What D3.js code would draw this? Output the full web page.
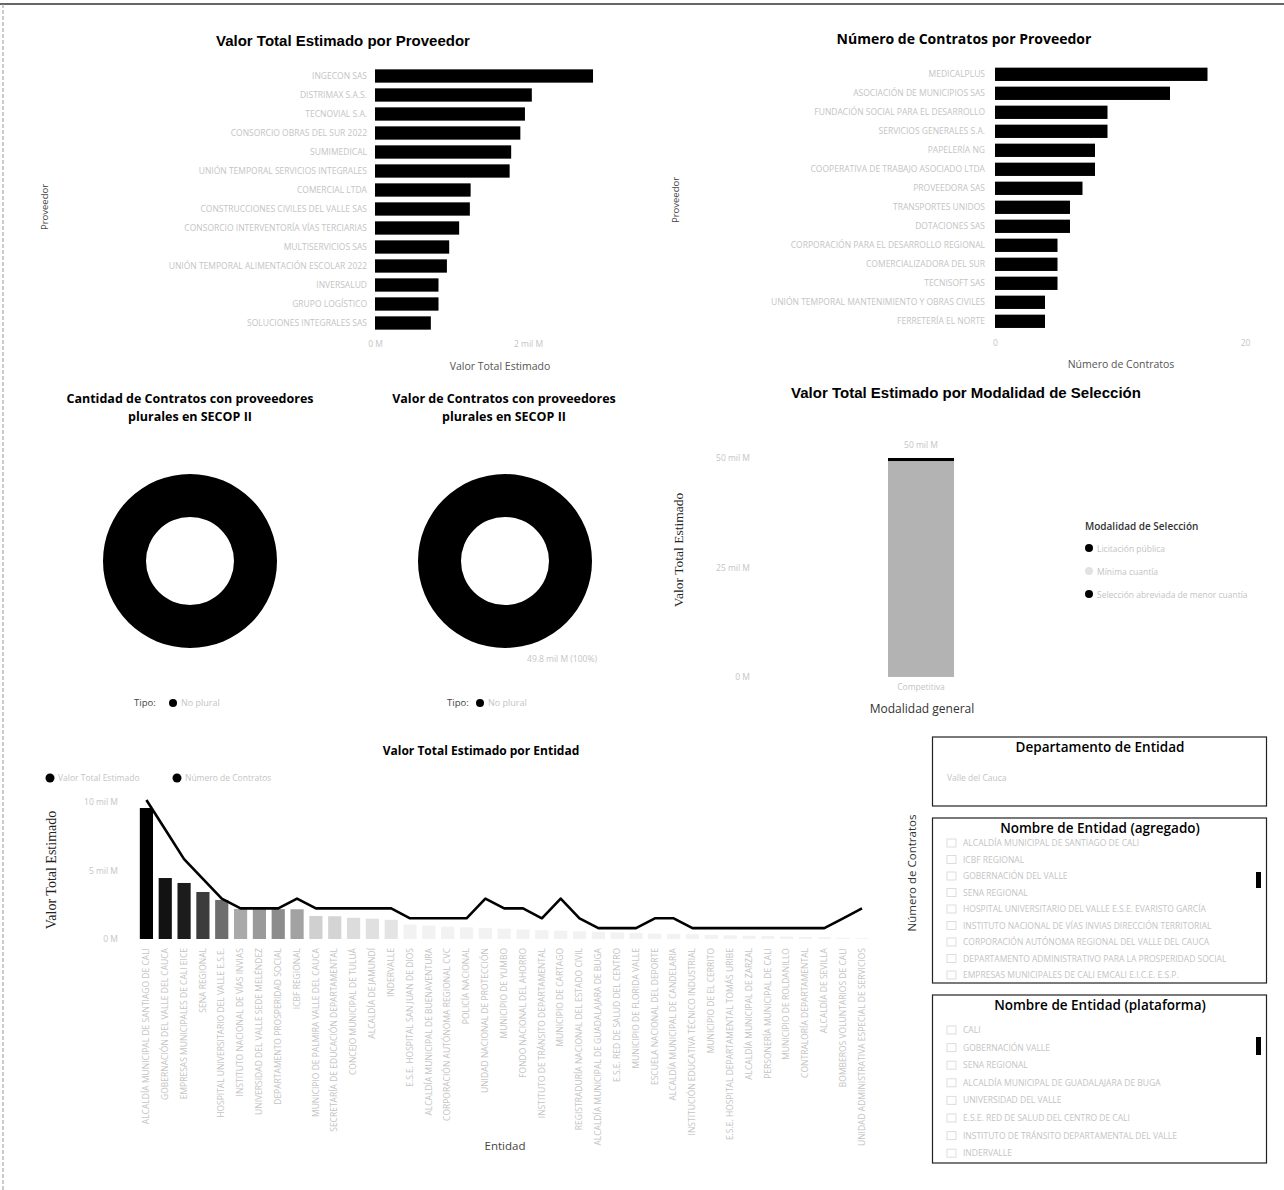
<!DOCTYPE html>
<html><head><meta charset="utf-8">
<script src="https://cdn.jsdelivr.net/npm/d3@7"></script>
<style>
body{margin:0;background:#fff;}
svg{display:block;font-family:"Open Sans",sans-serif;}
</style></head><body>
<svg id="c" width="1284" height="1190"></svg>
<script>
// ---------- DATA ----------
const proveedoresValor = ["INGECON SAS","DISTRIMAX S.A.S.","TECNOVIAL S.A.","CONSORCIO OBRAS DEL SUR 2022","SUMIMEDICAL","UNIÓN TEMPORAL SERVICIOS INTEGRALES","COMERCIAL LTDA","CONSTRUCCIONES CIVILES DEL VALLE SAS","CONSORCIO INTERVENTORÍA VÍAS TERCIARIAS","MULTISERVICIOS SAS","UNIÓN TEMPORAL ALIMENTACIÓN ESCOLAR 2022","INVERSALUD","GRUPO LOGÍSTICO","SOLUCIONES INTEGRALES SAS"];
const valorProveedor = [2850, 2050, 1960, 1900, 1780, 1760, 1250, 1240, 1100, 970, 940, 830, 830, 730]; // millones COP
const valorTicks = [0, 2000];

const proveedoresContratos = ["MEDICALPLUS","ASOCIACIÓN DE MUNICIPIOS SAS","FUNDACIÓN SOCIAL PARA EL DESARROLLO","SERVICIOS GENERALES S.A.","PAPELERÍA NG","COOPERATIVA DE TRABAJO ASOCIADO LTDA","PROVEEDORA SAS","TRANSPORTES UNIDOS","DOTACIONES SAS","CORPORACIÓN PARA EL DESARROLLO REGIONAL","COMERCIALIZADORA DEL SUR","TECNISOFT SAS","UNIÓN TEMPORAL MANTENIMIENTO Y OBRAS CIVILES","FERRETERÍA EL NORTE"];
const numeroContratos = [17, 14, 9, 9, 8, 8, 7, 6, 6, 5, 5, 5, 4, 4];
const contratosTicks = [0, 20];

const tipos = ["No plural"];
const cantidadPorTipo = [212];
const valorPorTipo = [49800];

const modalidadGeneral = ["Competitiva"];
const modalidades = ["Licitación pública", "Mínima cuantía", "Selección abreviada de menor cuantía"];
const valorModalidad = [10, 49300, 690];
const modalidadTicks = [0, 25000, 50000];

const entidades = ["ALCALDÍA MUNICIPAL DE SANTIAGO DE CALI","GOBERNACIÓN DEL VALLE DEL CAUCA","EMPRESAS MUNICIPALES DE CALI EICE","SENA REGIONAL","HOSPITAL UNIVERSITARIO DEL VALLE E.S.E.","INSTITUTO NACIONAL DE VÍAS INVIAS","UNIVERSIDAD DEL VALLE SEDE MELÉNDEZ","DEPARTAMENTO PROSPERIDAD SOCIAL","ICBF REGIONAL","MUNICIPIO DE PALMIRA VALLE DEL CAUCA","SECRETARÍA DE EDUCACIÓN DEPARTAMENTAL","CONCEJO MUNICIPAL DE TULUÁ","ALCALDÍA DE JAMUNDÍ","INDERVALLE","E.S.E. HOSPITAL SAN JUAN DE DIOS","ALCALDÍA MUNICIPAL DE BUENAVENTURA","CORPORACIÓN AUTÓNOMA REGIONAL CVC","POLICÍA NACIONAL","UNIDAD NACIONAL DE PROTECCIÓN","MUNICIPIO DE YUMBO","FONDO NACIONAL DEL AHORRO","INSTITUTO DE TRÁNSITO DEPARTAMENTAL","MUNICIPIO DE CARTAGO","REGISTRADURÍA NACIONAL DEL ESTADO CIVIL","ALCALDÍA MUNICIPAL DE GUADALAJARA DE BUGA","E.S.E. RED DE SALUD DEL CENTRO","MUNICIPIO DE FLORIDA VALLE","ESCUELA NACIONAL DEL DEPORTE","ALCALDÍA MUNICIPAL DE CANDELARIA","INSTITUCIÓN EDUCATIVA TÉCNICO INDUSTRIAL","MUNICIPIO DE EL CERRITO","E.S.E. HOSPITAL DEPARTAMENTAL TOMÁS URIBE","ALCALDÍA MUNICIPAL DE ZARZAL","PERSONERÍA MUNICIPAL DE CALI","MUNICIPIO DE ROLDANILLO","CONTRALORÍA DEPARTAMENTAL","ALCALDÍA DE SEVILLA","BOMBEROS VOLUNTARIOS DE CALI","UNIDAD ADMINISTRATIVA ESPECIAL DE SERVICIOS"];
const valorEntidad = [9560, 4450, 4090, 3430, 2850, 2190, 2180, 2180, 2170, 1680, 1660, 1550, 1480, 1400, 1050, 980, 900, 850, 800, 760, 700, 650, 600, 560, 520, 480, 440, 400, 370, 340, 300, 270, 240, 210, 180, 150, 120, 90, 60];
const contratosEntidad = [14, 11, 8, 6, 4, 3, 3, 3, 4, 3, 3, 3, 3, 3, 2, 2, 2, 2, 4, 3, 3, 2, 4, 2, 1, 1, 1, 2, 2, 1, 1, 1, 1, 1, 1, 1, 1, 2, 3];
const entidadTicks = [0, 5000, 10000];
const seriesEntidad = ["Valor Total Estimado", "Número de Contratos"];

const departamentos = ["Valle del Cauca"];
const entidadesAgregado = ["ALCALDÍA MUNICIPAL DE SANTIAGO DE CALI","ICBF REGIONAL","GOBERNACIÓN DEL VALLE","SENA REGIONAL","HOSPITAL UNIVERSITARIO DEL VALLE E.S.E. EVARISTO GARCÍA","INSTITUTO NACIONAL DE VÍAS INVIAS DIRECCIÓN TERRITORIAL","CORPORACIÓN AUTÓNOMA REGIONAL DEL VALLE DEL CAUCA","DEPARTAMENTO ADMINISTRATIVO PARA LA PROSPERIDAD SOCIAL","EMPRESAS MUNICIPALES DE CALI EMCALI E.I.C.E. E.S.P."];
const entidadesPlataforma = ["CALI","GOBERNACIÓN VALLE","SENA REGIONAL","ALCALDÍA MUNICIPAL DE GUADALAJARA DE BUGA","UNIVERSIDAD DEL VALLE","E.S.E. RED DE SALUD DEL CENTRO DE CALI","INSTITUTO DE TRÁNSITO DEPARTAMENTAL DEL VALLE","INDERVALLE"];

// ---------- HELPERS ----------
const FAINT = "#c4c4c4";
const svg = d3.select("#c");
svg.append("rect").attr("width",1284).attr("height",1190).attr("fill","#fff");
svg.append("line").attr("x1",0).attr("x2",1284).attr("y1",4).attr("y2",4).attr("stroke","#333").attr("stroke-width",1.3);
svg.append("line").attr("x1",3).attr("x2",3).attr("y1",4).attr("y2",1190).attr("stroke","#999").attr("stroke-dasharray","4,2");

function text(x, y, s, o) {
  o = o || {};
  const t = svg.append("text").attr("x", x).attr("y", y).text(s)
    .attr("font-size", o.size || 10)
    .attr("font-family", o.family || "'Open Sans', sans-serif")
    .attr("font-weight", o.weight || 400)
    .attr("fill", o.fill || "#222")
    .attr("text-anchor", o.anchor || "middle");
  if (o.rotate) t.attr("transform", `rotate(${o.rotate},${x},${y})`);
  return t;
}
const fmtM = d => d === 0 ? "0 M" : (d / 1000) + " mil M";
function cleanAxis(g, fill, size) {
  g.select(".domain").remove();
  g.selectAll(".tick line").remove();
  g.selectAll("text").attr("fill", fill).attr("font-size", size).attr("font-family", "'Open Sans', sans-serif");
}

// ---------- TOP LEFT: Valor por proveedor ----------
text(343, 46, "Valor Total Estimado por Proveedor", {size: 15, weight: 700, family: "'Liberation Sans', Arial, sans-serif", fill: "#000"});
const yL = d3.scaleBand().domain(proveedoresValor).range([66.5, 332.5]).paddingInner(0.3).paddingOuter(0.15);
const xL = d3.scaleLinear().domain([0, 2000]).range([375, 528]);
svg.append("g").selectAll("rect").data(proveedoresValor).join("rect")
  .attr("x", xL(0)).attr("y", d => yL(d))
  .attr("width", (d, i) => xL(valorProveedor[i]) - xL(0))
  .attr("height", yL.bandwidth()).attr("fill", "#000");
svg.append("g").attr("transform", "translate(367,0)")
  .call(d3.axisLeft(yL).tickSize(0).tickPadding(0)).call(g => cleanAxis(g, FAINT, 8.5));
svg.append("g").attr("transform", "translate(0,341)")
  .call(d3.axisBottom(xL).tickValues(valorTicks).tickFormat(fmtM).tickSize(0).tickPadding(0)).call(g => cleanAxis(g, FAINT, 8.5));
text(500, 370, "Valor Total Estimado", {size: 10.5, fill: "#555"});
text(48, 207, "Proveedor", {size: 9.5, fill: "#444", rotate: -90});

// ---------- TOP RIGHT: Número de contratos por proveedor ----------
text(964, 44, "Número de Contratos por Proveedor", {size: 14, weight: 700, fill: "#000"});
const yR = d3.scaleBand().domain(proveedoresContratos).range([64.8, 330.8]).paddingInner(0.3).paddingOuter(0.15);
const xR = d3.scaleLinear().domain([0, 20]).range([995, 1245]);
svg.append("g").selectAll("rect").data(proveedoresContratos).join("rect")
  .attr("x", xR(0)).attr("y", d => yR(d))
  .attr("width", (d, i) => xR(numeroContratos[i]) - xR(0))
  .attr("height", yR.bandwidth()).attr("fill", "#000");
svg.append("g").attr("transform", "translate(985,0)")
  .call(d3.axisLeft(yR).tickSize(0).tickPadding(0)).call(g => cleanAxis(g, FAINT, 8.5));
svg.append("g").attr("transform", "translate(0,340)")
  .call(d3.axisBottom(xR).tickValues(contratosTicks).tickSize(0).tickPadding(0)).call(g => cleanAxis(g, FAINT, 8.5));
text(1121, 368, "Número de Contratos", {size: 10.5, fill: "#555"});
text(679, 200, "Proveedor", {size: 9.5, fill: "#444", rotate: -90});

// ---------- DONUTS ----------
const pie = d3.pie().sort(null);
const arc = d3.arc().innerRadius(44).outerRadius(87);
function donut(cx, cy, values, titleLines, tx, legX, dotX) {
  text(tx, 403, titleLines[0], {size: 12.5, weight: 700, fill: "#000"});
  text(tx, 421, titleLines[1], {size: 12.5, weight: 700, fill: "#000"});
  svg.append("g").attr("transform", `translate(${cx},${cy})`)
    .selectAll("path").data(pie(values)).join("path")
    .attr("d", arc).attr("fill", "#000");
  text(legX, 706, "Tipo:", {size: 9.5, fill: "#444", anchor: "start"});
  svg.append("g").selectAll("circle").data(tipos).join("circle")
    .attr("cx", dotX).attr("cy", 703).attr("r", 4).attr("fill", "#000");
  svg.append("g").selectAll("text").data(tipos).join("text")
    .attr("x", dotX + 8).attr("y", 706).text(d => d)
    .attr("font-size", 9).attr("fill", FAINT);
}
donut(190, 561, cantidadPorTipo, ["Cantidad de Contratos con proveedores", "plurales en SECOP II"], 190, 134, 173);
donut(505, 561, valorPorTipo, ["Valor de Contratos con proveedores", "plurales en SECOP II"], 504, 447, 480);
text(562, 662, fmtM(valorPorTipo[0]) + " (100%)", {size: 8.5, fill: FAINT});

// ---------- MODALIDAD ----------
text(966, 398, "Valor Total Estimado por Modalidad de Selección", {size: 15, weight: 700, family: "'Liberation Sans', Arial, sans-serif", fill: "#000"});
const xM = d3.scaleBand().domain(modalidadGeneral).range([855, 987]).padding(1/3);
const yM = d3.scaleLinear().domain([0, 50000]).range([677, 458]);
const colorM = d3.scaleOrdinal().domain(modalidades).range(["#000", "#b3b3b3", "#000"]);
const rowM = {grupo: modalidadGeneral[0]};
modalidades.forEach((m, i) => rowM[m] = valorModalidad[i]);
const stackM = d3.stack().keys(modalidades)([rowM]);
svg.append("g").selectAll("rect").data(stackM).join("rect")
  .attr("x", d => xM(d[0].data.grupo)).attr("width", xM.bandwidth())
  .attr("y", d => yM(d[0][1])).attr("height", d => yM(d[0][0]) - yM(d[0][1]))
  .attr("fill", d => colorM(d.key));
text(xM(modalidadGeneral[0]) + xM.bandwidth() / 2, 448, fmtM(d3.sum(valorModalidad)), {size: 8.5, fill: FAINT});
svg.append("g").attr("transform", "translate(750,0)")
  .call(d3.axisLeft(yM).tickValues(modalidadTicks).tickFormat(fmtM).tickSize(0).tickPadding(0)).call(g => cleanAxis(g, FAINT, 8.5));
svg.append("g").attr("transform", "translate(0,684)")
  .call(d3.axisBottom(xM).tickSize(0).tickPadding(0)).call(g => cleanAxis(g, FAINT, 8.5));
text(922, 713, "Modalidad general", {size: 12, fill: "#333"});
text(683, 550, "Valor Total Estimado", {size: 13.5, fill: "#222", family: "'Liberation Serif', serif", rotate: -90});
text(1085, 530, "Modalidad de Selección", {size: 10, weight: 600, fill: "#333", anchor: "start"});
const legM = svg.append("g").selectAll("g").data(modalidades).join("g")
  .attr("transform", (d, i) => `translate(1089,${548 + i * 23})`);
legM.append("circle").attr("r", 4).attr("fill", d => colorM(d) === "#000" ? "#000" : "#e2e2e2");
legM.append("text").attr("x", 8).attr("y", 3.5).text(d => d).attr("font-size", 8.5).attr("fill", FAINT);

// ---------- BOTTOM: Valor por entidad ----------
text(481, 755, "Valor Total Estimado por Entidad", {size: 12, weight: 700, fill: "#000"});
const xE = d3.scaleBand().domain(entidades).range([137, 871.4]).paddingInner(0.3).paddingOuter(0.15);
const yE = d3.scaleLinear().domain([0, 10000]).range([939, 802]);
const yE2 = d3.scaleLinear().domain([0, 15]).range([938, 790.1]);
const grays = ["#000", "#121212", "#1c1c1c", "#3c3c3c", "#6e6e6e", "#a9a9a9", "#9a9a9a", "#8c8c8c", "#a2a2a2", "#d0d0d0", "#d4d4d4", "#dcdcdc", "#e0e0e0", "#e4e4e4"];
const colorE = (d, i) => i < grays.length ? grays[i] : "#f2f2f2";
svg.append("g").selectAll("rect").data(entidades).join("rect")
  .attr("x", d => xE(d)).attr("width", xE.bandwidth())
  .attr("y", (d, i) => yE(valorEntidad[i])).attr("height", (d, i) => yE(0) - yE(valorEntidad[i]))
  .attr("fill", colorE);
const lineE = d3.line().x((d, i) => xE(entidades[i]) + xE.bandwidth() / 2).y(d => yE2(d));
svg.append("path").datum(contratosEntidad).attr("d", lineE)
  .attr("fill", "none").attr("stroke", "#000").attr("stroke-width", 2.6).attr("stroke-linejoin", "round");
svg.append("g").attr("transform", "translate(118,0)")
  .call(d3.axisLeft(yE).tickValues(entidadTicks).tickFormat(fmtM).tickSize(0).tickPadding(0)).call(g => cleanAxis(g, FAINT, 8.5));
svg.append("g").attr("transform", "translate(0,948)")
  .call(d3.axisBottom(xE).tickSize(0))
  .call(g => {
    cleanAxis(g, FAINT, 8.5);
    g.selectAll("text").attr("x", 0).attr("y", 0).attr("dy", "0.32em")
      .attr("transform", "rotate(-90)").attr("text-anchor", "end");
  });
text(505, 1150, "Entidad", {size: 11.5, fill: "#444"});
text(56, 870, "Valor Total Estimado", {size: 14, fill: "#222", family: "'Liberation Serif', serif", rotate: -90});
text(916, 873, "Número de Contratos", {size: 11.5, fill: "#333", rotate: -90});
const legE = svg.append("g").selectAll("g").data(seriesEntidad).join("g")
  .attr("transform", (d, i) => `translate(${i ? 177 : 50},778)`);
legE.append("circle").attr("r", 4.5).attr("fill", "#000");
legE.append("text").attr("x", 8).attr("y", 3).text(d => d).attr("font-size", 8.5).attr("fill", FAINT);

// ---------- RIGHT PANELS ----------
function panel(y0, h, title, items, rowY, rowStep, thumb) {
  svg.append("rect").attr("x", 932.5).attr("y", y0).attr("width", 334).attr("height", h)
    .attr("fill", "none").attr("stroke", "#222").attr("stroke-width", 1.2);
  text(1100, y0 + 15, title, {size: 13.5, weight: 600, fill: "#000"});
  const g = svg.append("g").selectAll("g").data(items).join("g")
    .attr("transform", (d, i) => `translate(947,${rowY + i * rowStep})`);
  if (rowStep) {
    g.append("rect").attr("x", 0).attr("y", -4).attr("width", 9).attr("height", 8)
      .attr("fill", "none").attr("stroke", "#ddd");
  }
  g.append("text").attr("x", rowStep ? 16 : 0).attr("y", 3).text(d => d)
    .attr("font-size", 8.5).attr("fill", FAINT);
  if (thumb) svg.append("rect").attr("x", 1256).attr("y", thumb[0]).attr("width", 5).attr("height", thumb[1]).attr("fill", "#000");
}
panel(737, 69, "Departamento de Entidad", departamentos, 778, 0, null);
panel(818, 165, "Nombre de Entidad (agregado)", entidadesAgregado, 843, 16.5, [872, 16]);
panel(995, 168, "Nombre de Entidad (plataforma)", entidadesPlataforma, 1030, 17.6, [1037, 18]);
</script></body></html>
